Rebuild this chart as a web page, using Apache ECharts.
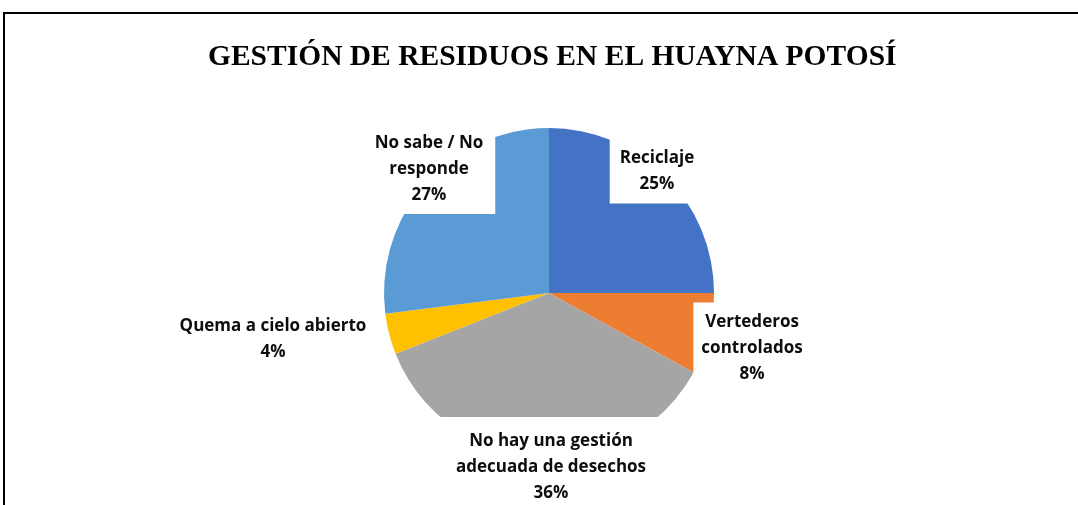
<!DOCTYPE html>
<html>
<head>
<meta charset="utf-8">
<script src="https://cdn.jsdelivr.net/npm/echarts@6/dist/echarts.min.js"></script>
<style>
  html, body { margin: 0; padding: 0; background: #fff; }
  #frame {
    position: absolute; left: 3px; top: 12px; width: 1078px; height: 500px;
    border-top: 2px solid #000; border-left: 2px solid #000;
  }
  #chart { position: absolute; left: 0; top: 0; width: 1078px; height: 505px; }
</style>
</head>
<body>
<div id="frame"></div>
<div id="chart"></div>
<script>
// categories and shares (%)
const categorias = [
  'Reciclaje',
  'Vertederos\ncontrolados',
  'No hay una gestión\nadecuada de desechos',
  'Quema a cielo abierto',
  'No sabe / No\nresponde'
]
const porcentajes = [25, 8, 36, 4, 27]
const colores = ['#4472C4', '#ED7D31', '#A5A5A5', '#FFC000', '#5B9BD5']

// where Excel placed each data label (centre of the text block)
const posEtiquetas = [
  [657, 171],
  [753, 348],
  [551, 467],
  [273, 339],
  [430, 169]
]
const rellenos = [
  [9, 10, 4, 10],
  [7, 10, 6, 8],
  [14, 40, 8, 40],
  [6, 8, 6, 8],
  [8, 12, 4, 10]
]

const chart = echarts.init(document.getElementById('chart'))

const option = {
  animation: false,
  title: {
    text: 'GESTIÓN DE RESIDUOS EN EL HUAYNA POTOSÍ',
    left: 203,
    top: 37,
    textStyle: {
      fontFamily: 'Liberation Serif',
      fontWeight: 'bold',
      fontSize: 29.5,
      color: '#000'
    }
  },
  series: [
    {
      type: 'pie',
      center: [549, 293],
      radius: 165,
      startAngle: 90,
      clockwise: true,
      itemStyle: { borderWidth: 0 },
      labelLine: { show: false },
      label: {
        show: true,
        position: 'outside',
        formatter: '{b}\n{d}%',
        fontFamily: 'Open Sans',
        fontWeight: 'bold',
        fontSize: 17,
        lineHeight: 26,
        color: '#0d0d0d',
        align: 'center',
        backgroundColor: '#fff'
      },
      labelLayout: function (params) {
        const p = posEtiquetas[params.dataIndex]
        return { x: p[0], y: p[1], align: 'center', verticalAlign: 'middle', hideOverlap: false }
      },
      data: categorias.map(function (c, i) {
        return {
          name: c,
          value: porcentajes[i],
          itemStyle: { color: colores[i] },
          label: { padding: rellenos[i] }
        }
      })
    }
  ]
}

chart.setOption(option)
</script>
</body>
</html>
